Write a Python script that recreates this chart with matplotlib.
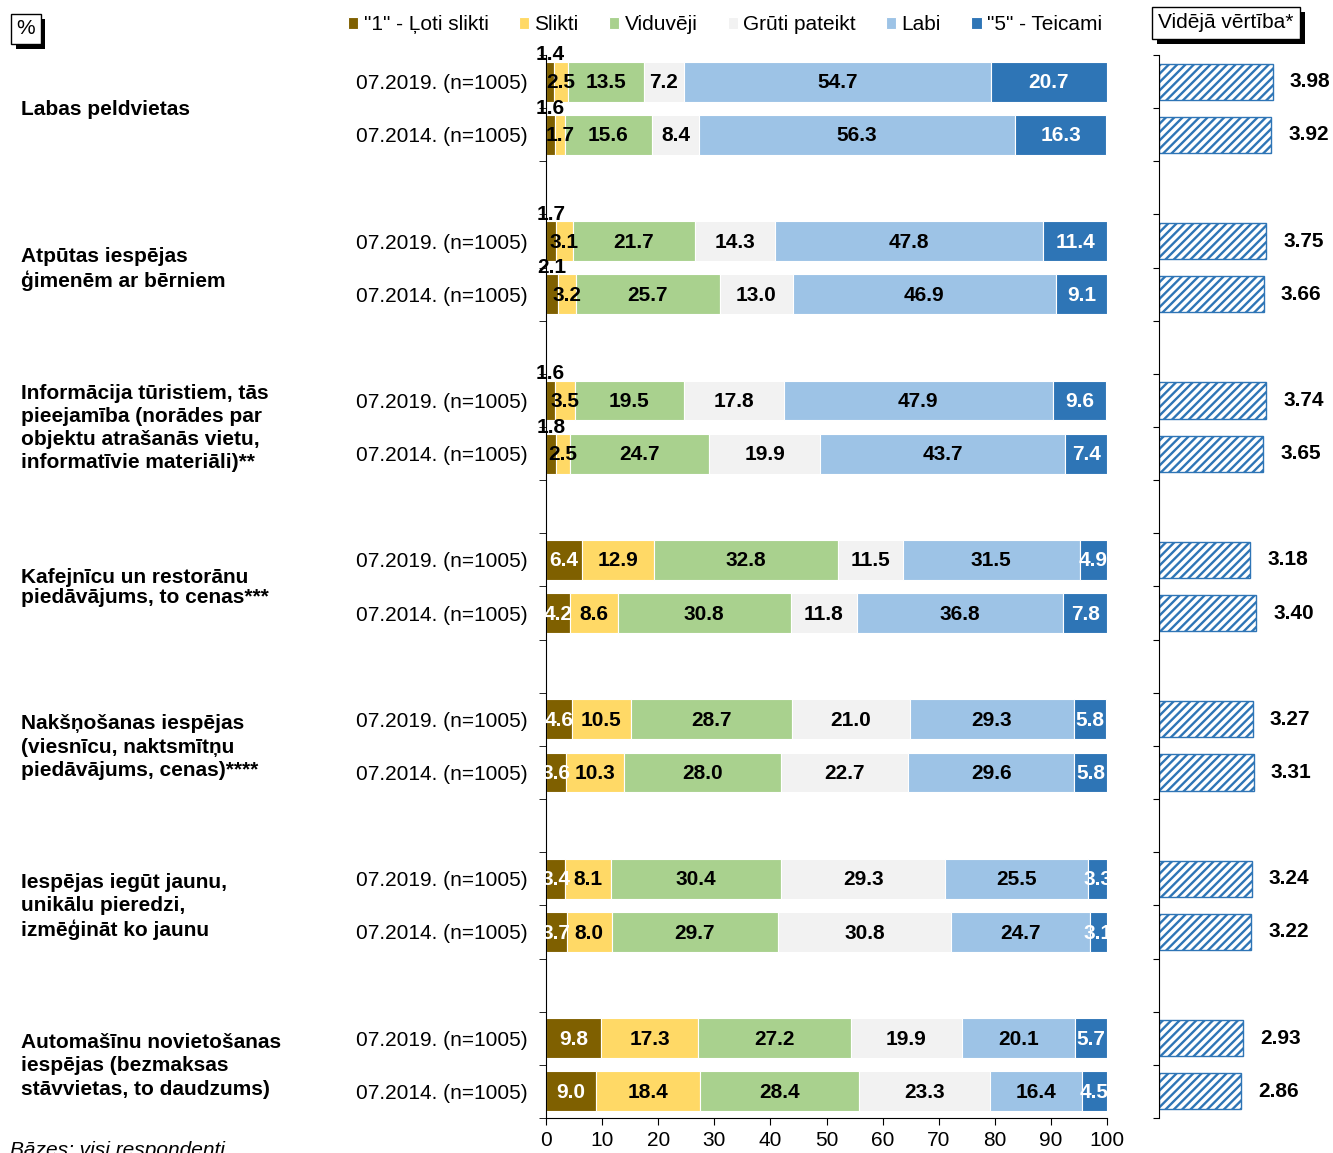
import matplotlib
matplotlib.use('Agg')
import matplotlib.pyplot as plt
import matplotlib.patheffects as pe
import matplotlib.transforms as mtransforms
import numpy as np

plt.rcParams['font.family'] = ['Liberation Sans', 'DejaVu Sans']
plt.rcParams['hatch.linewidth'] = 1.7

categories = [
    "Labas peldvietas",
    "Atpūtas iespējas\nģimenēm ar bērniem",
    "Informācija tūristiem, tās\npieejamība (norādes par\nobjektu atrašanās vietu,\ninformatīvie materiāli)**",
    "Kafejnīcu un restorānu\npiedāvājums, to cenas***",
    "Nakšņošanas iespējas\n(viesnīcu, naktsmītņu\npiedāvājums, cenas)****",
    "Iespējas iegūt jaunu,\nunikālu pieredzi,\nizmēģināt ko jaunu",
    "Automašīnu novietošanas\niespējas (bezmaksas\nstāvvietas, to daudzums)",
]
waves = ["07.2019. (n=1005)", "07.2014. (n=1005)"]

series_names = ['"1" - Ļoti slikti', 'Slikti', 'Viduvēji', 'Grūti pateikt', 'Labi', '"5" - Teicami']
colors = ['#7F6000', '#FFD966', '#A9D18E', '#F2F2F2', '#9DC3E6', '#2E75B6']

# rows: each category -> 2019, 2014
very_bad = [1.4, 1.6, 1.7, 2.1, 1.6, 1.8, 6.4, 4.2, 4.6, 3.6, 3.4, 3.7, 9.8, 9.0]
bad = [2.5, 1.7, 3.1, 3.2, 3.5, 2.5, 12.9, 8.6, 10.5, 10.3, 8.1, 8.0, 17.3, 18.4]
average = [13.5, 15.6, 21.7, 25.7, 19.5, 24.7, 32.8, 30.8, 28.7, 28.0, 30.4, 29.7, 27.2, 28.4]
hard_to_say = [7.2, 8.4, 14.3, 13.0, 17.8, 19.9, 11.5, 11.8, 21.0, 22.7, 29.3, 30.8, 19.9, 23.3]
good = [54.7, 56.3, 47.8, 46.9, 47.9, 43.7, 31.5, 36.8, 29.3, 29.6, 25.5, 24.7, 20.1, 16.4]
excellent = [20.7, 16.3, 11.4, 9.1, 9.6, 7.4, 4.9, 7.8, 5.8, 5.8, 3.3, 3.1, 5.7, 4.5]
means = [3.98, 3.92, 3.75, 3.66, 3.74, 3.65, 3.18, 3.40, 3.27, 3.31, 3.24, 3.22, 2.93, 2.86]

series = [very_bad, bad, average, hard_to_say, good, excellent]

W, H = 1333, 1153
fig = plt.figure(figsize=(W / 100, H / 100), dpi=100)


def px_box(x0, y0, x1, y1):
    return [x0 / W, 1 - y1 / H, (x1 - x0) / W, (y1 - y0) / H]


ax = fig.add_axes(px_box(546, 55, 1107, 1118))
ax2 = fig.add_axes(px_box(1159, 55, 1333, 1118))

narrow = ['Liberation Sans Narrow', 'Liberation Sans', 'DejaVu Sans']

# y positions: 3 slots per category (2019, 2014, gap)
ypos = []
for g in range(len(categories)):
    ypos += [3 * g, 3 * g + 1]
ypos = np.array(ypos)

left = np.zeros(len(ypos))
for k, (vals, col, name) in enumerate(zip(series, colors, series_names)):
    vals = np.array(vals)
    ax.barh(ypos, vals, left=left, height=0.75, color=col, edgecolor='white',
            linewidth=0.8, label=name)
    for y, l, v in zip(ypos, left, vals):
        xc = l + v / 2
        if k == 0 and v < 3:
            # tiny segments: value sits above the bar
            ax.text(xc, y - 0.5, f"{v:.1f}", ha='center', va='center',
                    fontsize=15, fontweight='bold', color='black', family=narrow)
        else:
            tc = 'white' if k in (0, 5) else 'black'
            ax.text(xc, y + 0.02, f"{v:.1f}", ha='center', va='center',
                    fontsize=15, fontweight='bold', color=tc, family=narrow)
    left = left + vals

ax.set_xlim(0, 100)
ax.set_ylim(19.5, -0.5)
ax.set_xticks(np.arange(0, 101, 10))
ax.tick_params(axis='x', labelsize=15, length=5, pad=4, direction='out')
ax.set_yticks(ypos)
ax.set_yticklabels([waves[i % 2] for i in range(len(ypos))], fontsize=15)
ax.tick_params(axis='y', which='major', length=0, pad=13)
ax.set_yticks(np.arange(-0.5, 20, 1), minor=True)
ax.tick_params(axis='y', which='minor', length=5, direction='out')
for s in ['top', 'right']:
    ax.spines[s].set_visible(False)

# category labels
trans = mtransforms.blended_transform_factory(fig.transFigure, ax.transData)
for g, cat in enumerate(categories):
    ax.text(21 / W, 3 * g + 0.52, cat, transform=trans, ha='left', va='center',
            fontsize=15, fontweight='bold', linespacing=1.1 if g == 3 else 1.28)

# mean values panel
ax2.barh(ypos, means, height=0.68, color='white', edgecolor='#2E75B6',
         hatch='////', linewidth=1)
for y, m in zip(ypos, means):
    ax2.text(m + 0.6, y, f"{m:.2f}", ha='left', va='center',
             fontsize=15, fontweight='bold')
ax2.set_xlim(0, 174 / 28.6)
ax2.set_ylim(19.5, -0.5)
ax2.set_xticks([])
ax2.set_yticks(np.arange(-0.5, 20, 1))
ax2.set_yticklabels([])
ax2.tick_params(axis='y', length=4, direction='out')
for s in ['top', 'right', 'bottom']:
    ax2.spines[s].set_visible(False)

# legend
fig.legend(loc='center', bbox_to_anchor=(725 / W, 1 - 25 / H), ncol=6,
           frameon=False, fontsize=15, handlelength=0.5, handleheight=0.5,
           handletextpad=0.25, columnspacing=1.45, borderaxespad=0)

shadow = [pe.withSimplePatchShadow(offset=(3.5, -3.5), shadow_rgbFace='black', alpha=1)]
t1 = fig.text(26 / W, 1 - 29 / H, "%", ha='center', va='center', fontsize=15,
              bbox=dict(boxstyle='square,pad=0.25', fc='white', ec='black', lw=1))
t1.get_bbox_patch().set_path_effects(shadow)
t2 = fig.text(1226 / W, 1 - 23 / H, "Vidējā vērtība*", ha='center', va='center',
              fontsize=15,
              bbox=dict(boxstyle='square,pad=0.3', fc='white', ec='black', lw=1))
t2.get_bbox_patch().set_path_effects(shadow)

fig.text(10 / W, 1 - 1156 / H, "Bāzes: visi respondenti", ha='left',
         va='baseline', fontsize=15, style='italic')

fig.savefig('out.png', dpi=100)
